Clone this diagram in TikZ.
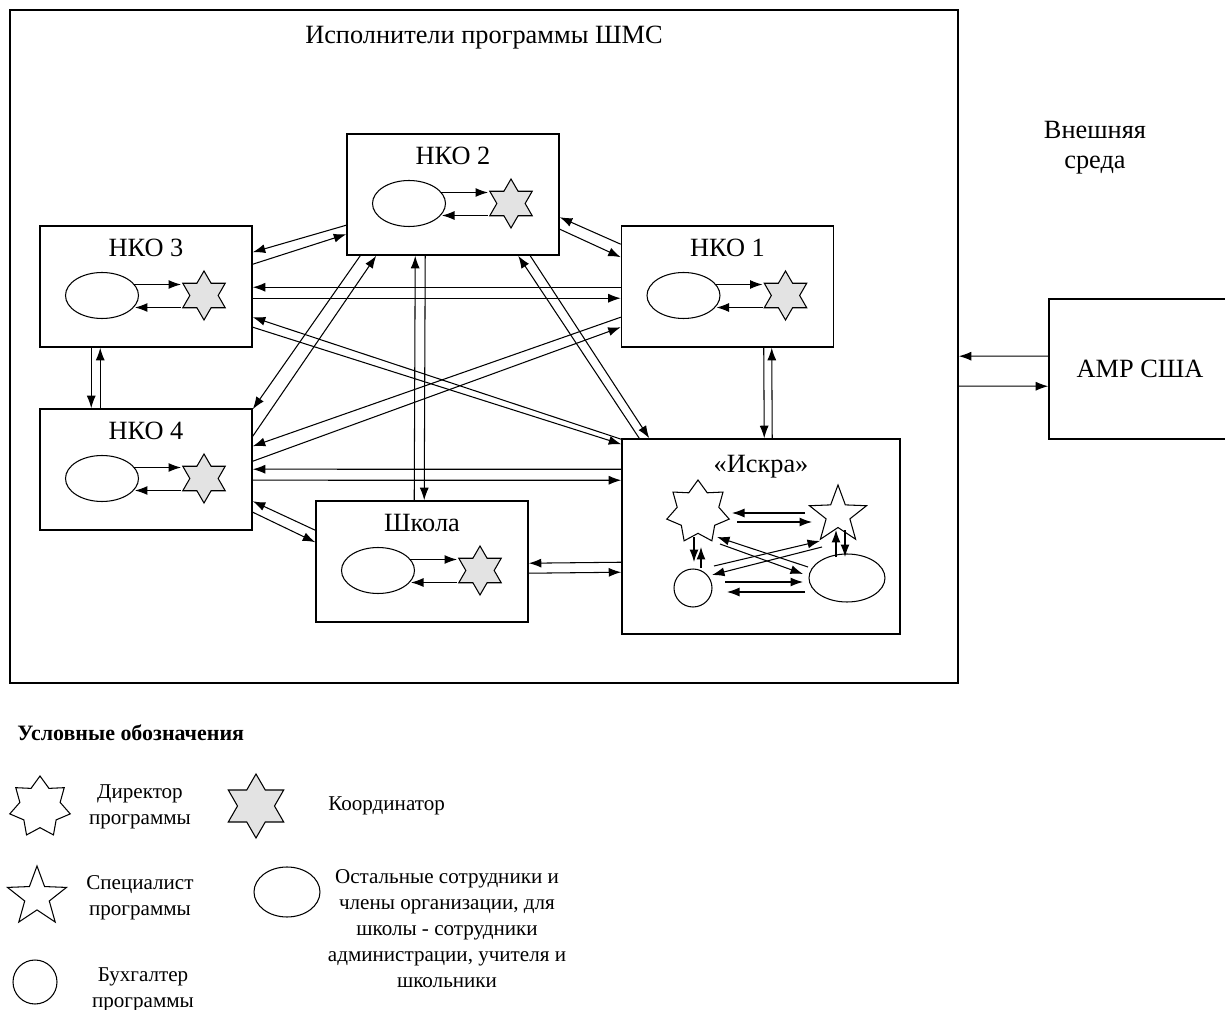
\documentclass[tikz,border=0pt]{standalone}
\usepackage{fontspec}
\setmainfont{Liberation Serif}
\usetikzlibrary{arrows.meta,calc,shapes.geometric}

\newcommand{\bigfnt}{\fontsize{15}{17}\selectfont}
\newcommand{\legfnt}{\fontsize{12}{14.8}\selectfont}

\begin{document}
\begin{tikzpicture}[
  x=0.02cm, y=-0.02cm,
  >={Latex[length=2.5mm,width=1.8mm]},
  every node/.style={font=\bigfnt, inner sep=0pt},
  orgbox/.style={draw, line width=0.9pt, minimum width=4.24cm, minimum height=2.42cm},
  staff/.style={ellipse, draw, line width=0.6pt, minimum width=1.46cm, minimum height=0.92cm},
  coord/.style={star, star points=6, star point ratio=1.73, draw, line width=0.6pt, fill=gray!22, minimum size=0.98cm},
  director/.style={star, star points=7, star point ratio=1.5, draw, line width=0.6pt, minimum size=1.28cm},
  expert/.style={star, star points=5, star point ratio=2.4, draw, line width=0.6pt, minimum size=1.2cm},
  accnt/.style={circle, draw, line width=0.6pt, minimum size=0.76cm},
  link/.style={->, line width=0.6pt},
  legtext/.style={font=\legfnt, align=center}
]
\useasboundingbox (0,0) rectangle (1225,1010);

\node[draw, line width=1pt, minimum width=18.96cm, minimum height=13.46cm] (shms) at (484,346.5) {};
\node (shms-t) at ($(shms.north)+(0,28)$) {Исполнители программы ШМС};
\node[align=center] (env) at (1095,148) {Внешняя\\среда};
\node[orgbox, minimum width=3.64cm, minimum height=2.8cm] (amp) at (1140,369) {АМР США};

\foreach \b/\name/\pos in {nko2/НКО 2/{453,194.5}, nko3/НКО 3/{146,286.5},
    nko1/НКО 1/{727.5,286.5}, nko4/НКО 4/{146,469.5}, shk/Школа/{422,561.5}} {
  \node[orgbox] (\b) at (\pos) {};
  \node (\b-t) at ($(\b.north)+(0,23)$) {\name};
  \node[staff] (\b-e) at ($(\b)+(-44,9)$) {};
  \node[coord] (\b-k) at ($(\b)+(58,9)$) {};
  \draw[link] ($(\b-e)+(32,-11)$) -- ($(\b-k)+(-23,-11)$);
  \draw[link] ($(\b-k)+(-23,12)$) -- ($(\b-e)+(33,12)$);
}

\node[orgbox, minimum width=5.56cm, minimum height=3.9cm] (iskra) at (761,536.5) {};
\node (iskra-t) at ($(iskra.north)+(0,28)$) {«Искра»};
\node[director] (dir) at (698,512) {};
\node[expert] (spec) at (838,515) {};
\node[accnt] (buh) at (693,588) {};
\node[staff, minimum width=1.52cm, minimum height=0.96cm] (rest) at (847,578) {};
\draw[link] ($(spec)+(-33,-2)$) -- ($(dir)+(34,1)$);
\draw[link] ($(dir)+(39,10)$) -- ($(spec)+(-26,7)$);
\draw[link] ($(buh)+(32,-6)$) -- ($(rest)+(-44,4)$);
\draw[link] ($(rest)+(-42,14)$) -- ($(buh)+(34,4)$);
\draw[link] ($(dir)+(-4,25)$) -- ($(buh)+(1,-26)$);
\draw[link] ($(buh)+(8,-20)$) -- ($(dir)+(3,35)$);
\draw[link] ($(rest)+(-11,-21)$) -- ($(spec)+(-2,15)$);
\draw[link] ($(spec)+(7,15)$) -- ($(rest)+(-2,-21)$);
\draw[link] ($(rest)+(-39,-11)$) -- ($(dir)+(19,25)$);
\draw[link] ($(dir)+(22,32)$) -- ($(rest)+(-44,-4)$);
\draw[link] ($(buh)+(21,-22)$) -- ($(spec)+(-18,26)$);
\draw[link] ($(spec)+(-16,32)$) -- ($(buh)+(19,-13)$);

\draw[link] ($(nko2.north west)+(0,92)$) -- ($(nko3.north east)+(0,27)$);
\draw[link] ($(nko3.north east)+(0,39)$) -- ($(nko2.north west)+(0,101)$);
\draw[link] ($(nko1.north west)+(0,19)$) -- ($(nko2.north east)+(0,84)$);
\draw[link] ($(nko2.north east)+(0,96)$) -- ($(nko1.north west)+(0,32)$);
\draw[link] ($(nko1.north west)+(0,62)$) -- ($(nko3.north east)+(0,62)$);
\draw[link] ($(nko3.north east)+(0,73)$) -- ($(nko1.north west)+(0,73)$);
\draw[link] ($(iskra.north west)+(0,1)$) -- ($(nko3.north east)+(0,92)$);
\draw[link] ($(nko3.north east)+(0,102)$) -- ($(iskra.north west)+(0,6)$);
\draw[link] ($(nko2.south west)+(14,0)$) -- ($(nko4.north east)+(0,1)$);
\draw[link] ($(nko4.north east)+(0,28)$) -- ($(nko2.south west)+(30,0)$);
\draw[link] ($(nko1.north west)+(0,92)$) -- ($(nko4.north east)+(0,38)$);
\draw[link] ($(nko4.north east)+(0,53)$) -- ($(nko1.north west)+(0,102)$);
\draw[link] ($(shk.north west)+(99,0)$) -- ($(nko2.south west)+(69,0)$);
\draw[link] ($(nko2.south west)+(79,0)$) -- ($(shk.north west)+(109,0)$);
\draw[link] ($(iskra.north west)+(18,0)$) -- ($(nko2.south west)+(172,0)$);
\draw[link] ($(nko2.south west)+(184,0)$) -- ($(iskra.north west)+(28,0)$);
\draw[link] ($(iskra.north west)+(0,31)$) -- ($(nko4.north east)+(0,61)$);
\draw[link] ($(nko4.north east)+(0,72)$) -- ($(iskra.north west)+(0,42)$);
\draw[link] ($(shk.north west)+(0,30)$) -- ($(nko4.north east)+(0,93)$);
\draw[link] ($(nko4.north east)+(0,104)$) -- ($(shk.north west)+(0,42)$);
\draw[link] ($(iskra.north west)+(0,124)$) -- ($(shk.north east)+(0,63)$);
\draw[link] ($(shk.north east)+(0,73)$) -- ($(iskra.north west)+(0,134)$);
\draw[link] ($(nko3.south west)+(52,0)$) -- ($(nko4.north west)+(52,0)$);
\draw[link] ($(nko4.north west)+(61,0)$) -- ($(nko3.south west)+(61,0)$);
\draw[link] ($(nko1.south west)+(143,0)$) -- ($(iskra.north west)+(143,0)$);
\draw[link] ($(iskra.north west)+(151,0)$) -- ($(nko1.south west)+(151,0)$);
\draw[link] ($(amp.north west)+(0,58)$) -- ($(shms.north east)+(0,347)$);
\draw[link] ($(shms.north east)+(0,377)$) -- ($(amp.north west)+(0,88)$);

\node[anchor=west, font=\fontsize{12.5}{15}\selectfont\bfseries] (legtitle) at (17,733) {Условные обозначения};
\node[director, minimum size=1.24cm] (ldir) at (40,807) {};
\node[legtext] (ldir-t) at (140,807) {Директор\\программы};
\node[coord, minimum size=1.28cm] (lkoord) at (256,806) {};
\node[legtext, anchor=west] (lkoord-t) at (328,806) {Координатор};
\node[expert, minimum size=1.24cm] (lspec) at (37,897) {};
\node[legtext] (lspec-t) at (140,898) {Специалист\\программы};
\node[staff, minimum width=1.32cm, minimum height=1cm] (lrest) at (287,892) {};
\node[legtext] (lrest-t) at (447,929) {Остальные сотрудники и\\члены организации, для\\школы - сотрудники\\администрации, учителя и\\школьники};
\node[accnt, minimum size=0.88cm] (lbuh) at (35,982) {};
\node[legtext] (lbuh-t) at (143,990) {Бухгалтер\\программы};
\end{tikzpicture}
\end{document}
